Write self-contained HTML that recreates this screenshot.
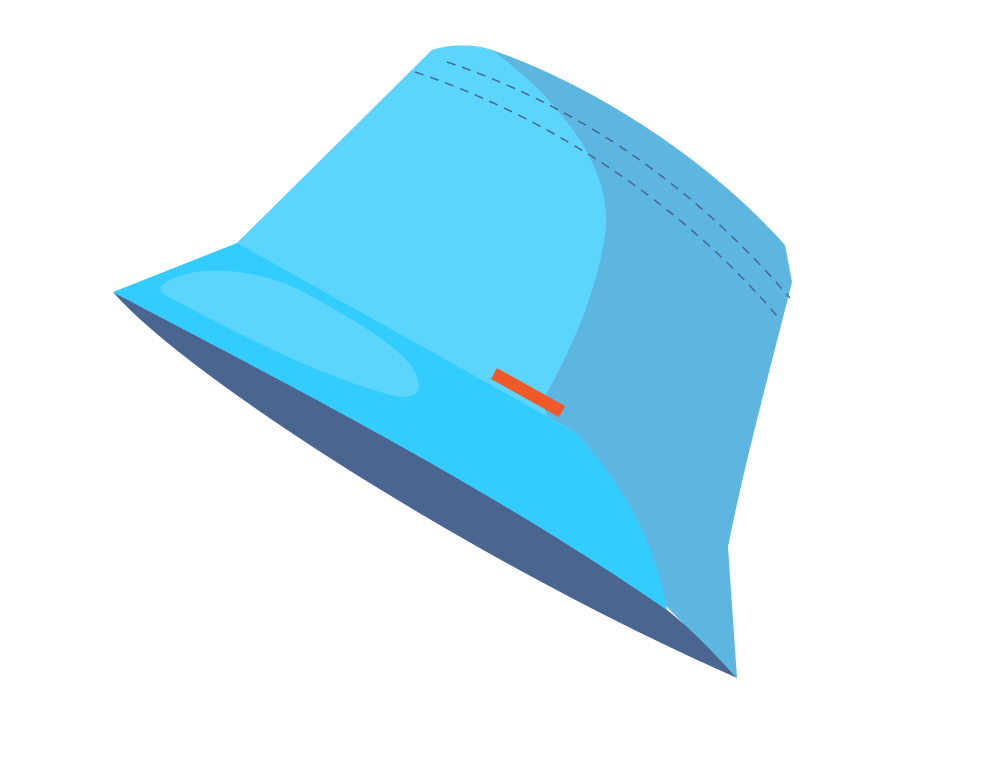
<!DOCTYPE html>
<html>
<head>
<meta charset="utf-8">
<style>
  html,body{margin:0;padding:0;background:#ffffff;}
  svg{display:block;}
</style>
</head>
<body>
<svg width="990" height="765" viewBox="0 0 990 765">
  <rect x="0" y="0" width="990" height="765" fill="#ffffff"/>
  <!-- crown right (shaded, drawn behind everything) -->
  <path fill="#5cb6e0"
        d="M432,50 C450,44 475,44 492,50 C580,80 700,150 785,245 L792,282 C770,370 745,460 728,547 L737,678 L667,607 L575,432 L237,243 Z"/>
  <!-- crown left (light) -->
  <path fill="#5bd5fd"
        d="M432,50 C450,44 475,44 492,50 C560,100 615,170 605,235 C595,300 568,355 542,402 L552,428 L232,250 L237,243 Z"/>
  <!-- brim underside -->
  <path fill="#4a6690"
        d="M113,292 C185,375 470,560 737,678 C715,655 695,632 667,610 C480,480 250,365 113,292 Z"/>
  <!-- brim top -->
  <path fill="#33ccff"
        d="M113,292 L237,243 L575,432 C620,480 655,540 667,610 C480,480 250,365 113,292 Z"/>
  <!-- brim highlight -->
  <path fill="#5bd5fd"
        d="M165,283 C190,265 250,266 300,290 C350,318 400,345 415,372 C425,392 415,400 395,396 C330,380 250,340 180,303 C160,294 156,289 165,283 Z"/>
  <!-- stitching -->
  <path fill="none" stroke="#4a6690" stroke-width="1.5" stroke-dasharray="9,7"
        d="M447,62 C560,100 680,170 790,298"/>
  <path fill="none" stroke="#4a6690" stroke-width="1.5" stroke-dasharray="9,7"
        d="M415,72 C530,110 670,190 777,316"/>
  <!-- tag -->
  <polygon fill="#f05a28"
           points="497,368 565,406 559,417 491,379"/>
</svg>
</body>
</html>
